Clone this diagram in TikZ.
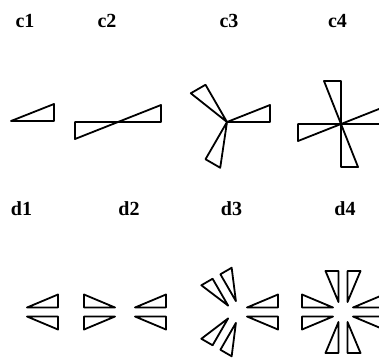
\documentclass[tikz,border=0pt]{standalone}
\usepackage{fontspec}
\setmainfont{Liberation Serif}
\usetikzlibrary{positioning}

\begin{document}
\begin{tikzpicture}[x=1pt,y=-1pt,
    blade/.style={line width=1.8pt, line join=round},
    tag/.style={font=\fontsize{20}{20}\selectfont\bfseries, anchor=base}
]
\useasboundingbox (0,0) rectangle (379,357);
\clip (0,0) rectangle (379,357);

% row c: single blades turned about the centre
\foreach \cx/\cy/\n in {11/121/1, 118/122/2, 227/122/3, 341/124/4}
  \foreach \k in {1,...,\n}
    \draw[blade, shift={(\cx,\cy)}, rotate=360/\n*\k] (0,0) -- (43,0) -- (43,-17) -- cycle;

% row d: split blades
\foreach \cx/\n in {17/1, 125/2, 237/3, 343/4}
  \foreach \k in {1,...,\n} {
    \draw[blade, shift={(\cx,312)}, rotate=360/\n*\k] (10,-4.5) -- (41,-4.5) -- (41,-17.5) -- cycle;
    \draw[blade, shift={(\cx,312)}, rotate=360/\n*\k] (10,4.5) -- (41,4.5) -- (41,17.5) -- cycle;
  }

\node[tag] (c1) at (25,27.5) {c1};
\node[tag] (c2) at (107,27.5) {c2};
\node[tag] (c3) at (229,27.5) {c3};
\node[tag] (c4) at (337.5,27.5) {c4};
\node[tag] (d1) at (21.5,215) {d1};
\node[tag] (d2) at (129,215) {d2};
\node[tag] (d3) at (231.5,215) {d3};
\node[tag] (d4) at (345,215) {d4};
\end{tikzpicture}
\end{document}
